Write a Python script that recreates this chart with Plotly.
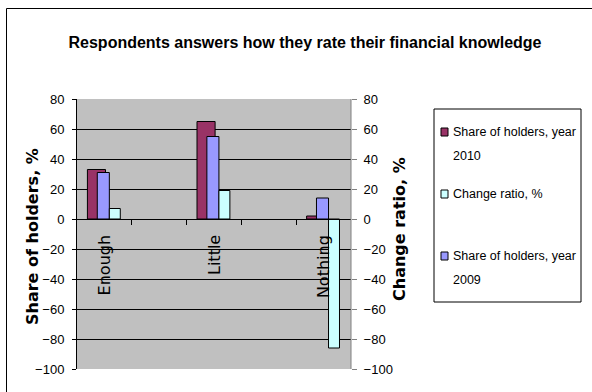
import plotly.graph_objects as go

# Survey data
categories = ["Enough", "Little", "Nothing"]
share_2010 = [33, 65, 2]
share_2009 = [31, 55, 14]
change_ratio = [7, 19, -86]

series_names = ["Share of holders, year 2010", "Change ratio, %", "Share of holders, year 2009"]
legend_lines = [["Share of holders, year", "2010"], ["Change ratio, %"], ["Share of holders, year", "2009"]]
colors = {"2010": "#993366", "ratio": "#CCFFFF", "2009": "#9999FF"}

y_min, y_max, y_step = -100, 80, 20
y_ticks = list(range(y_min, y_max + 1, y_step))

# categories sit on every second slot of a five-slot axis
slot_gap = 2
xpos = [i * slot_gap for i in range(len(categories))]
x_lo, x_hi = -0.5, xpos[-1] + 0.5
slot_edges = [x_lo + k for k in range(1, int(x_hi - x_lo))]

SANS = "Liberation Sans, Arial, sans-serif"
WIDE = "DejaVu Sans, Verdana, sans-serif"

# plot area in pixels
W, H = 592, 392
PL, PR, PT, PB = 77, 351, 99, 369


def px(x):
    return (x - PL) / (PR - PL)


def py(y):
    return (PB - y) / (PB - PT)


fig = go.Figure()
outline = dict(color="#000000", width=1)
fig.add_trace(go.Bar(x=xpos, y=share_2010, name=series_names[0], marker=dict(color=colors["2010"], line=outline),
                     offset=-0.31, width=0.33, yaxis="y"))
fig.add_trace(go.Bar(x=xpos, y=share_2009, name=series_names[2], marker=dict(color=colors["2009"], line=outline),
                     offset=-0.13, width=0.22, yaxis="y"))
fig.add_trace(go.Bar(x=xpos, y=change_ratio, name=series_names[1], marker=dict(color=colors["ratio"], line=outline),
                     offset=0.09, width=0.2, yaxis="y2"))

zero_pos = (0 - y_min) / (y_max - y_min)

annotations = []
# category labels hanging below the zero line
for xv, cat in zip(xpos, categories):
    annotations.append(dict(x=xv, y=0, xref="x", yref="y", text=cat, textangle=-90, showarrow=False,
                            xanchor="center", yanchor="top", yshift=-14,
                            font=dict(family=WIDE, size=16, color="#000000")))

# axis titles
annotations.append(dict(x=px(32), y=py(237), xref="paper", yref="paper", text="<b>Share of holders, %</b>",
                        textangle=-90, showarrow=False, xanchor="center", yanchor="middle",
                        font=dict(family=WIDE, size=16, color="#000000")))
annotations.append(dict(x=px(399), y=py(229), xref="paper", yref="paper", text="<b>Change ratio, %</b>",
                        textangle=-90, showarrow=False, xanchor="center", yanchor="middle",
                        font=dict(family=WIDE, size=16, color="#000000")))

shapes = []
# outer chart frame
shapes.append(dict(type="rect", xref="paper", yref="paper", x0=px(6.5), y0=py(400), x1=px(600), y1=py(8.5),
                   line=dict(color="#000000", width=1), fillcolor="rgba(0,0,0,0)", layer="below"))
# right border of the plot area
shapes.append(dict(type="line", xref="paper", yref="paper", x0=1, x1=1, y0=0, y1=1,
                   line=dict(color="#808080", width=1)))

# legend box
shapes.append(dict(type="rect", xref="paper", yref="paper", x0=px(434), y0=py(302), x1=px(581), y1=py(109),
                   line=dict(color="#000000", width=1), fillcolor="#FFFFFF"))
legend_colors = [colors["2010"], colors["ratio"], colors["2009"]]
entry_tops = [132, 194, 256]
line_h = 24
for lines, col, top in zip(legend_lines, legend_colors, entry_tops):
    shapes.append(dict(type="rect", xref="paper", yref="paper", x0=px(441), x1=px(448),
                       y0=py(top + 4), y1=py(top - 4), line=dict(color="#000000", width=1), fillcolor=col))
    for k, ln in enumerate(lines):
        annotations.append(dict(x=px(451), y=py(top + k * line_h), xref="paper", yref="paper", text=ln,
                                showarrow=False, xanchor="left", yanchor="middle",
                                font=dict(family=SANS, size=12.5, color="#000000")))

fig.update_layout(
    width=W, height=H,
    margin=dict(l=PL, r=W - PR, t=PT, b=H - PB, pad=0),
    paper_bgcolor="#FFFFFF",
    plot_bgcolor="#C0C0C0",
    barmode="overlay",
    showlegend=False,
    title=dict(text="<b>Respondents answers how they rate their financial knowledge</b>",
               x=305 / W, y=1 - 42 / H, xanchor="center", yanchor="middle",
               font=dict(family=SANS, size=16, color="#000000")),
    xaxis=dict(range=[x_lo, x_hi], tickvals=slot_edges, showticklabels=False, ticks="outside", ticklen=5,
               tickcolor="#000000", showline=True, linecolor="#000000", linewidth=1, showgrid=False,
               zeroline=False, anchor="free", position=zero_pos),
    yaxis=dict(range=[y_min, y_max], tickvals=y_ticks, ticks="outside", ticklen=4, tickcolor="#000000",
               showline=True, linecolor="#000000", linewidth=1, gridcolor="#000000", gridwidth=1,
               zeroline=False, ticklabelstandoff=5,
               tickfont=dict(family=SANS, size=13, color="#000000")),
    yaxis2=dict(range=[y_min, y_max], tickvals=y_ticks, ticks="outside", ticklen=5, tickcolor="#808080",
                overlaying="y", side="right", showgrid=False, zeroline=False, showline=False,
                ticklabelstandoff=4,
                tickfont=dict(family=SANS, size=13, color="#000000")),
    annotations=annotations,
    shapes=shapes,
)

fig.write_html("out.html")
